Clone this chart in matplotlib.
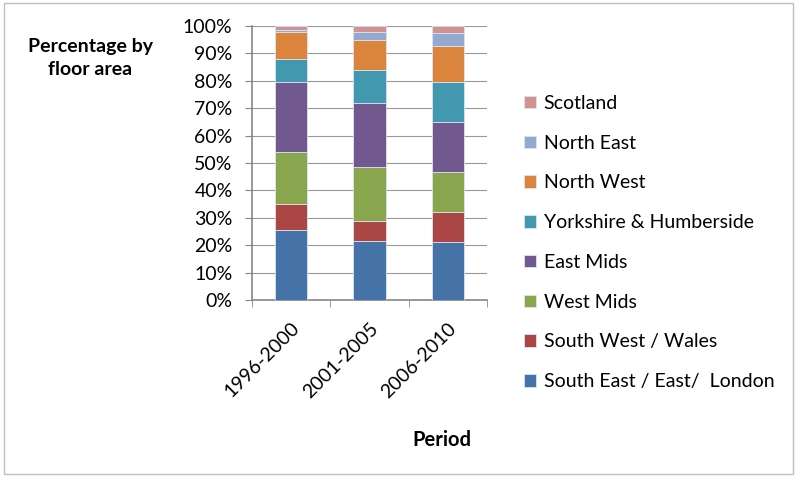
import matplotlib.pyplot as plt
from matplotlib.patches import Rectangle
import numpy as np

plt.rcParams['font.family'] = ['Lato', 'DejaVu Sans']

periods = ['1996-2000', '2001-2005', '2006-2010']
regions = ['South East / East/  London', 'South West / Wales', 'West Mids',
           'East Mids', 'Yorkshire & Humberside', 'North West',
           'North East', 'Scotland']
# share of floor area (%) per period, bottom segment first
se_east_london = [25.5, 21.7, 21.3]
sw_wales = [9.6, 7.3, 10.8]
west_mids = [19.0, 19.4, 14.7]
east_mids = [25.6, 23.5, 18.0]
yorks_humber = [8.4, 12.1, 14.9]
north_west = [9.8, 10.8, 12.9]
north_east = [0.6, 3.1, 4.7]
scotland = [1.5, 2.1, 2.7]

series = [se_east_london, sw_wales, west_mids, east_mids,
          yorks_humber, north_west, north_east, scotland]
colors = ['#4572A7', '#AA4643', '#89A54E', '#71588F',
          '#4198AF', '#DB843D', '#93A9CF', '#D19392']

fig = plt.figure(figsize=(7.95, 4.79), dpi=100)
ax = fig.add_axes([0.317, 0.3737, 0.2956, 0.572])

x = np.arange(len(periods))
bottom = np.zeros(len(periods))
bars = []
for vals, col, name in zip(series, colors, regions):
    vals = np.array(vals)
    b = ax.bar(x, vals, 0.41, bottom=bottom, color=col, label=name,
               edgecolor='#dde3ee', linewidth=0.6, zorder=3)
    bars.append(b)
    bottom += vals

ax.set_xlim(-0.5, 2.5)
ax.set_ylim(0, 100)
ax.set_yticks(np.arange(0, 101, 10))
ax.set_yticklabels([f'{v}%' for v in range(0, 101, 10)], fontsize=14)
ax.yaxis.grid(True, color='#999999', linewidth=0.8, zorder=0)
ax.set_xticks(x)
ax.set_xticklabels(periods, rotation=45, ha='right', rotation_mode='anchor',
                   fontsize=14)
ax.set_xticks([-0.5, 0.5, 1.5, 2.5], minor=True)
ax.tick_params(axis='x', which='major', length=0, pad=14)
ax.tick_params(axis='x', which='minor', length=5, color='#868686')
ax.tick_params(axis='y', length=5, color='#868686', pad=9)
for side in ['top', 'right']:
    ax.spines[side].set_visible(False)
for side in ['left', 'bottom']:
    ax.spines[side].set_color('#868686')
    ax.spines[side].set_linewidth(1.2)

fig.text(90 / 795, 1 - 58 / 479, 'Percentage by\nfloor area', ha='center',
         va='center', fontsize=14, fontweight='bold', linespacing=1.45)
fig.text(442 / 795, 1 - 440 / 479, 'Period', ha='center', va='center',
         fontsize=14.5, fontweight='bold')

fig.legend(handles=bars[::-1], loc='upper left',
           bbox_to_anchor=(524 / 795, 1 - 95 / 479), frameon=False,
           fontsize=14, handlelength=0.62, handleheight=0.62,
           handletextpad=0.4, labelspacing=1.17, borderpad=0,
           borderaxespad=0)

fig.patches.append(Rectangle((4 / 795, 5 / 479), 789 / 795, 471 / 479,
                             transform=fig.transFigure, fill=False,
                             edgecolor='#bfbfbf', linewidth=1))

fig.savefig('out.png', dpi=100)
